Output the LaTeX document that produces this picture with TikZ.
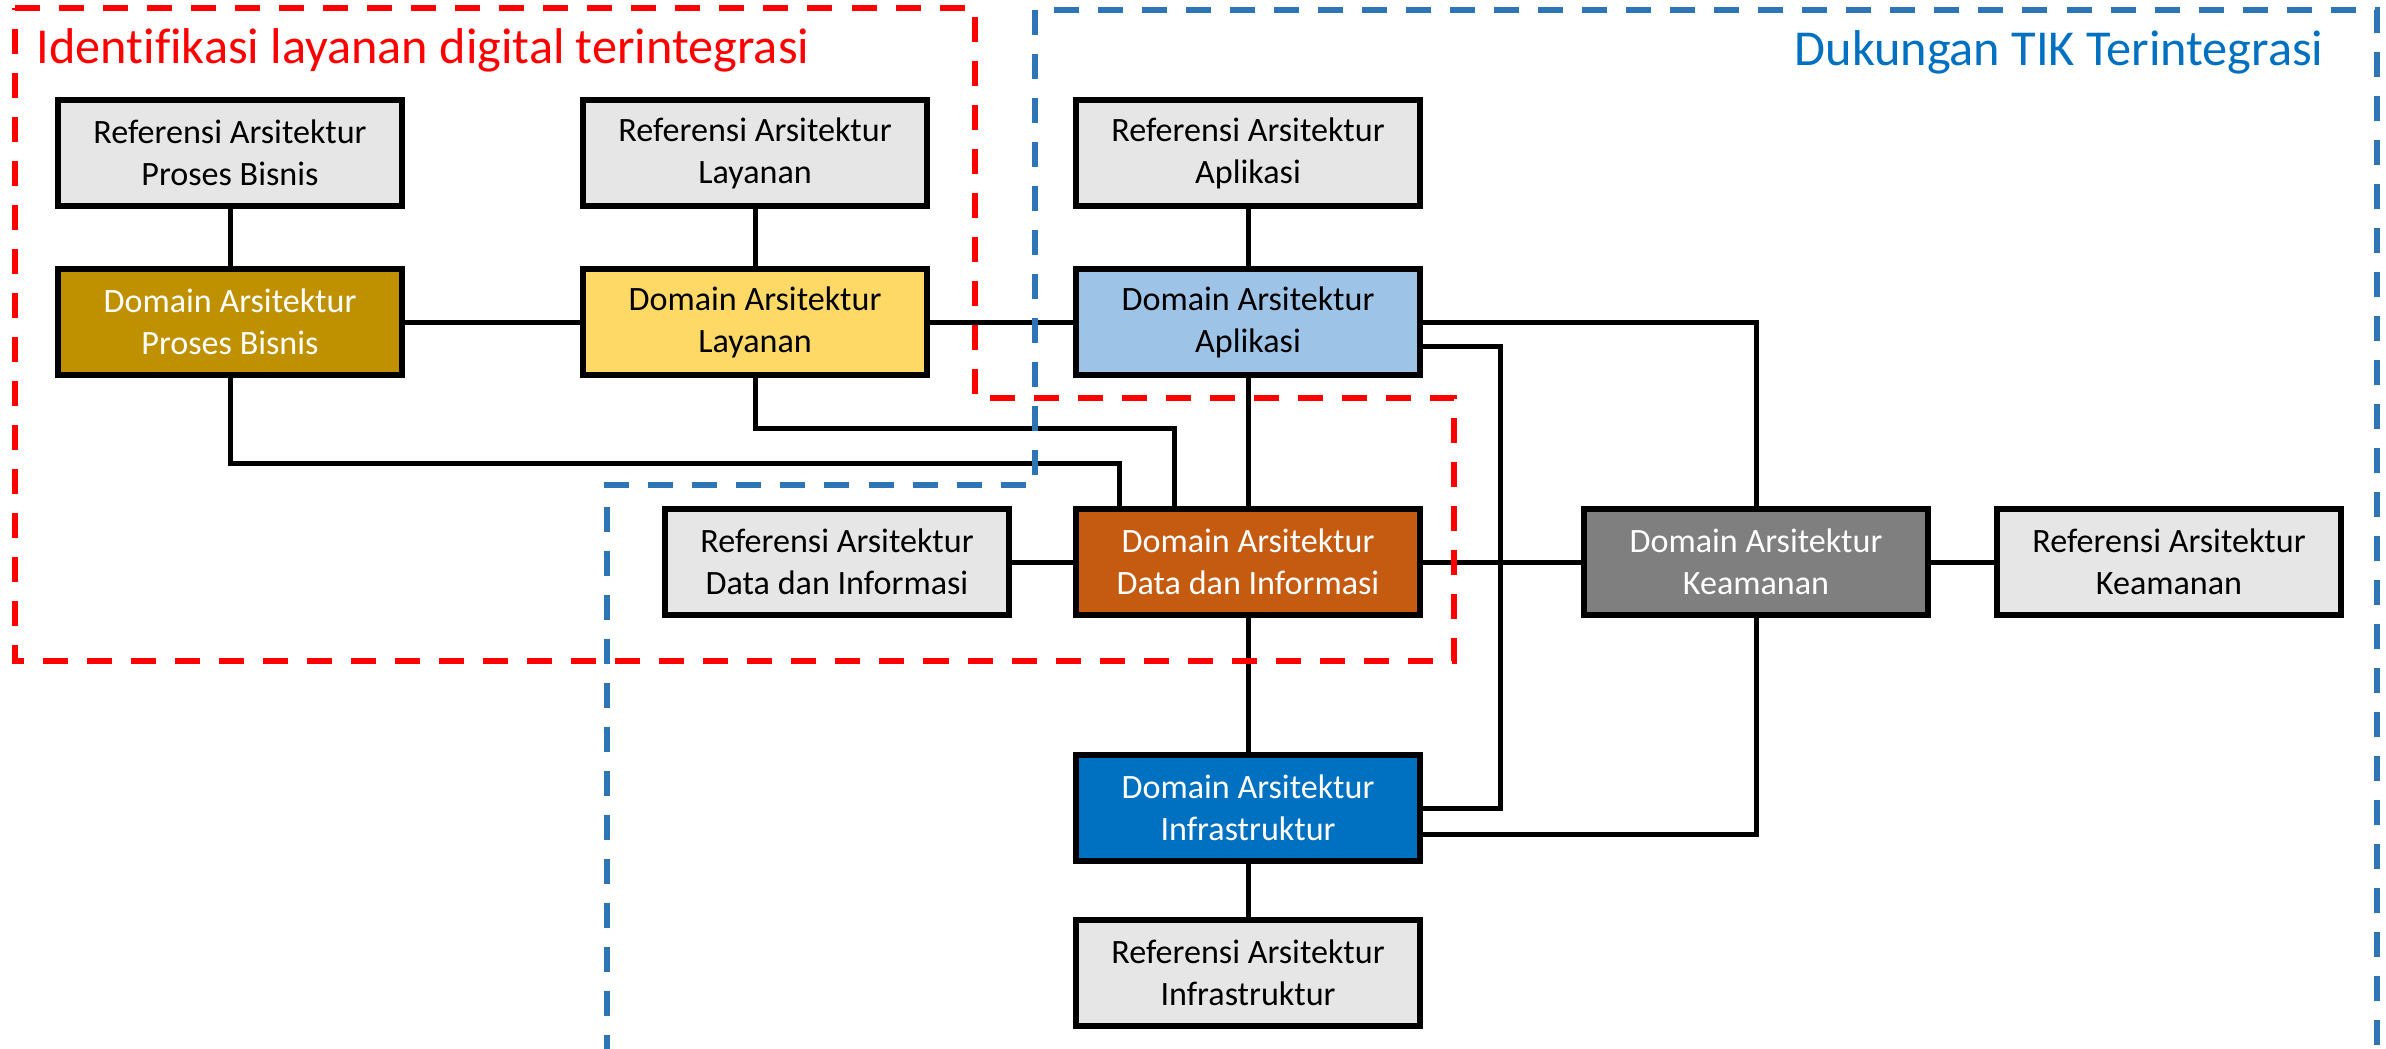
\documentclass[tikz,border=0pt]{standalone}
\usepackage{fontspec}
\setmainfont{Carlito}[Ligatures=NoCommon]
\definecolor{refgray}{HTML}{E7E6E6}
\definecolor{bisnisgold}{HTML}{BF9000}
\definecolor{layananyellow}{HTML}{FFD966}
\definecolor{aplikasiblue}{HTML}{9DC3E6}
\definecolor{dataorange}{HTML}{C55A11}
\definecolor{keamanangray}{HTML}{7F7F7F}
\definecolor{infrablue}{HTML}{0070C0}
\definecolor{frameblue}{HTML}{2E75B6}
\definecolor{framered}{HTML}{FF0000}
\tikzset{
        boxnode/.style={align=center, inner sep=0pt, rectangle, draw=black, line width=0.065cm,
                minimum width=3.44cm, minimum height=1.06cm, font=\fontsize{9.7}{11.9}\selectfont},
        % Reference nodes
        node_ref/.style={boxnode, fill=refgray, text=black},
        % Domain nodes
        node_domain/.style={boxnode, text=white},
        % Connectors
        link/.style={line width=0.05cm, black},
        % Dashed frames
        frame/.style={line width=0.055cm, dash pattern=on 0.25cm off 0.19cm}
}
\begin{document}
\begin{tikzpicture}[x=0.01cm, y=-0.01cm]
            \useasboundingbox[fill=white] (0,0) rectangle (2386,1048);
            % Reference nodes
            \node[node_ref] (rPB) at (230,153) {Referensi Arsitektur\\Proses Bisnis};
            \node[node_ref] (rLay) at (755,153) {Referensi Arsitektur\\Layanan};
            \node[node_ref] (rApl) at (1248,153) {Referensi Arsitektur\\Aplikasi};
            \node[node_ref] (rData) at (837,562) {Referensi Arsitektur\\Data dan Informasi};
            \node[node_ref] (rKea) at (2169,562) {Referensi Arsitektur\\Keamanan};
            \node[node_ref] (rInf) at (1248,973) {Referensi Arsitektur\\Infrastruktur};
            % Domain nodes
            \node[node_domain, fill=bisnisgold] (dPB) at (230,322) {Domain Arsitektur\\Proses Bisnis};
            \node[node_domain, fill=layananyellow, text=black] (dLay) at (755,322) {Domain Arsitektur\\Layanan};
            \node[node_domain, fill=aplikasiblue, text=black] (dApl) at (1248,322) {Domain Arsitektur\\Aplikasi};
            \node[node_domain, fill=dataorange] (dData) at (1248,562) {Domain Arsitektur\\Data dan Informasi};
            \node[node_domain, fill=keamanangray] (dKea) at (1756,562) {Domain Arsitektur\\Keamanan};
            \node[node_domain, fill=infrablue] (dInf) at (1248,808) {Domain Arsitektur\\Infrastruktur};
            % Connectors
            \draw[link] (rPB) -- (dPB);
            \draw[link] (rLay) -- (dLay);
            \draw[link] (rApl) -- (dApl);
            \draw[link] (dPB) -- (dLay);
            \draw[link] (dLay) -- (dApl);
            \draw[link] (dPB.south) -- ++(0,85) -| ([xshift=-1.28cm]dData.north);
            \draw[link] (dLay.south) -- ++(0,50) -| ([xshift=-0.73cm]dData.north);
            \draw[link] (dApl) -- (dData);
            \draw[link] (dApl.east) -| (dKea.north);
            \draw[link] ([yshift=-0.24cm]dApl.east) -- ++(77,0) |- (dInf.east);
            \draw[link] (rData) -- (dData);
            \draw[link] (dData) -- (dKea);
            \draw[link] (dKea) -- (rKea);
            \draw[link] (dData) -- (dInf);
            \draw[link] (dKea.south) |- ([yshift=-0.26cm]dInf.east);
            \draw[link] (dInf) -- (rInf);
            % Frames
            \draw[frame, framered] (15,8) -- (975,8) -- (975,398) -- (1454,398) -- (1454,661) -- (15,661) -- cycle;
            \draw[frame, frameblue] (607,1060) -- (607,485) -- (1035,485) -- (1035,10) -- (2377,10) -- (2377,1060);
            \node[anchor=base west, inner sep=0pt, text=framered, font=\fontsize{14.3}{17}\selectfont] (tIdent) at (36,63) {Identifikasi layanan digital terintegrasi};
            \node[anchor=base east, inner sep=0pt, text=infrablue, font=\fontsize{14.3}{17}\selectfont] (tTIK) at (2324,65) {Dukungan TIK Terintegrasi};
        \end{tikzpicture}
\end{document}
